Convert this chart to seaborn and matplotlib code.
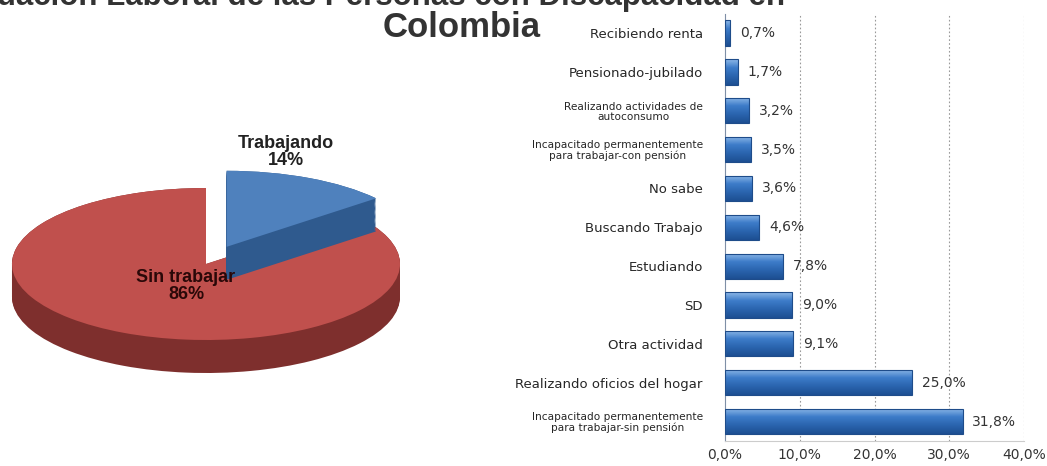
import matplotlib
matplotlib.use("Agg")
import matplotlib.pyplot as plt
import seaborn as sns
import pandas as pd
import numpy as np
from matplotlib.colors import LinearSegmentedColormap

# ---- data ----
title_line1 = "Situación Laboral de las Personas con Discapacidad en"
title_line2 = "Colombia"

pie_labels = ["Trabajando", "Sin trabajar"]
pie_values = [14, 86]

categories = [
    "Recibiendo renta",
    "Pensionado-jubilado",
    "Realizando actividades de\nautoconsumo",
    "Incapacitado permanentemente\npara trabajar-con pensión",
    "No sabe",
    "Buscando Trabajo",
    "Estudiando",
    "SD",
    "Otra actividad",
    "Realizando oficios del hogar",
    "Incapacitado permanentemente\npara trabajar-sin pensión",
]
values = [0.7, 1.7, 3.2, 3.5, 3.6, 4.6, 7.8, 9.0, 9.1, 25.0, 31.8]
xticks = [0, 10, 20, 30, 40]

sns.set_theme(style="white")
plt.rcParams["font.family"] = ["Liberation Sans", "DejaVu Sans"]

W, H = 1047, 466
fig = plt.figure(figsize=(W / 100, H / 100), dpi=100)
fig.patch.set_facecolor("white")

def px_rect(x0, y0, x1, y1):
    return [x0 / W, 1 - y1 / H, (x1 - x0) / W, (y1 - y0) / H]

# ---- title ----
fig.text(785 / W, 1 - 5 / H, title_line1, ha="right", va="baseline",
         fontsize=22.5, fontweight="bold", color="#333333")
fig.text(462 / W, 1 - 37 / H, title_line2, ha="center", va="baseline",
         fontsize=25, fontweight="bold", color="#333333")

# ---- pie (pseudo 3D) ----
cx, cy, rx, ry = 206, 264, 194, 76
xl = (-1.05, 1.05)
yl = (-1.6, 1.35)
ax_p = fig.add_axes(px_rect(cx - rx * 1.05, cy - ry * yl[1], cx + rx * 1.05, cy - ry * yl[0]))

top_cols = ["#4F81BD", "#C0504D"]
side_cols = ["#2F5A8E", "#7E2F2D"]
explode = [0.25, 0.0]
thick = 33 / ry
steps = np.linspace(thick, 0, 30)

def draw(idx, col, dy, z):
    wedges, _ = ax_p.pie(pie_values, startangle=90, counterclock=False, explode=explode,
                         colors=[col, col], radius=1.0, center=(0, -dy),
                         wedgeprops=dict(linewidth=0), frame=True)
    for j, w in enumerate(wedges):
        if j != idx:
            w.set_visible(False)
        w.set_zorder(z)

for d in steps:
    draw(1, side_cols[1], d, 1)
draw(1, top_cols[1], 0, 2)
for d in steps:
    draw(0, side_cols[0], d, 3)
draw(0, top_cols[0], 0, 4)
ax_p.set_xlim(*xl)
ax_p.set_ylim(*yl)
ax_p.set_aspect("auto")
ax_p.axis("off")

def to_data(px, py):
    return ((px - cx) / rx, -(py - cy) / ry)

tx, ty = to_data(286, 152)
ax_p.text(tx, ty, f"{pie_labels[0]}\n{pie_values[0]}%", ha="center", va="center",
          fontsize=13, fontweight="bold", color="#222222", zorder=10, linespacing=0.95)
sx, sy = to_data(186, 286)
ax_p.text(sx, sy, f"{pie_labels[1]}\n{pie_values[1]}%", ha="center", va="center",
          fontsize=13, fontweight="bold", color="#2a0808", zorder=10, linespacing=0.95)

# ---- bar chart ----
ax_b = fig.add_axes(px_rect(725, 13.6, 1024, 441))
df = pd.DataFrame({"cat": categories, "val": values})
sns.barplot(data=df, x="val", y="cat", orient="h", ax=ax_b, color="#3874C2",
            edgecolor="#1E4C8A", linewidth=0.8, width=0.65, saturation=1)
ax_b.set_xlim(0, 40)
ax_b.set_ylim(len(categories) - 0.5, -0.5)

# gradient fill inside each bar
cmap = LinearSegmentedColormap.from_list("barg", ["#8EB8E8", "#3D7CC9", "#2A64AE", "#1D4F92"])
grad = np.linspace(0, 1, 64).reshape(-1, 1)
for p in ax_b.patches:
    x0, y0 = p.get_x(), p.get_y()
    w, h = p.get_width(), p.get_height()
    im = ax_b.imshow(grad, cmap=cmap, aspect="auto", extent=(x0, x0 + w, y0 + h, y0),
                     origin="upper", zorder=2)
    im.set_clip_path(p)
    p.set_zorder(3)
    p.set_facecolor("none")
ax_b.set_xlim(0, 40)
ax_b.set_ylim(len(categories) - 0.5, -0.5)
ax_b.set_aspect("auto")

ax_b.set_xticks(xticks)
ax_b.set_xticklabels([f"{t:.1f}%".replace(".", ",") for t in xticks],
                     fontsize=10, color="#333333", family=["DejaVu Sans"])
ax_b.set_xlabel("")
ax_b.set_ylabel("")
ax_b.tick_params(axis="y", which="major", length=0, pad=16, labelcolor="#262626")
ax_b.set_yticks(np.arange(len(categories) + 1) - 0.5, minor=True)
ax_b.tick_params(axis="y", which="minor", length=3, color="#d7a577", width=0.8)
ax_b.tick_params(axis="x", length=3, color="#bbbbbb", pad=2)

for lbl in ax_b.get_yticklabels():
    lbl.set_multialignment("center")
    lbl.set_family(["DejaVu Sans"])
    two_line = "\n" in lbl.get_text()
    lbl.set_fontsize(7.6 if two_line else 9.5)
    lbl.set_linespacing(1.0)

for t in xticks[1:]:
    ax_b.axvline(t, color="#9a9a9a", linestyle=(0, (1.5, 2)), linewidth=0.8, zorder=0)
for s in ["top", "right"]:
    ax_b.spines[s].set_visible(False)
ax_b.spines["left"].set_color("#7f8fa6")
ax_b.spines["left"].set_linewidth(0.8)
ax_b.spines["bottom"].set_color("#cccccc")
ax_b.spines["bottom"].set_linewidth(0.8)
for i, v in enumerate(values):
    ax_b.text(v + 1.3, i, f"{v:.1f}%".replace(".", ","), va="center", ha="left",
              fontsize=10, color="#333333", family=["DejaVu Sans"], zorder=5)

fig.savefig("out.png", dpi=100, facecolor="white")
